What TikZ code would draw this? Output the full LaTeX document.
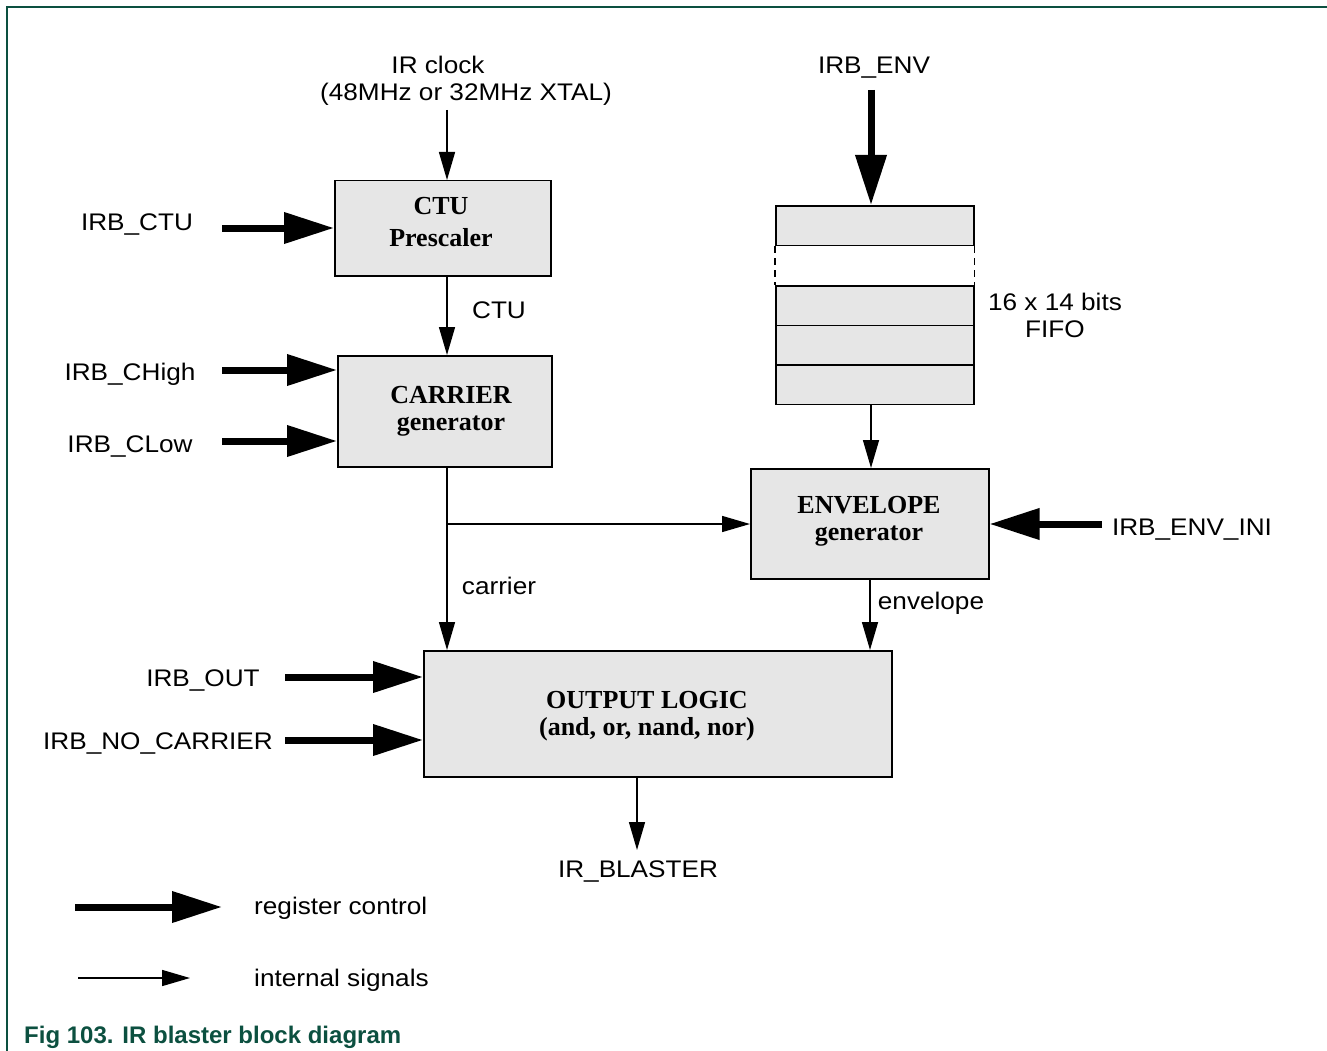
\documentclass[tikz,border=0pt]{standalone}
\usepackage{fontspec}
\setmainfont{Liberation Serif}
\setsansfont{Liberation Sans}
\newfontfamily\lblfont{Liberation Sans}[FakeStretch=1.09]
\usetikzlibrary{arrows.meta}
\definecolor{nxpgreen}{RGB}{12,80,64}
\definecolor{boxgray}{RGB}{230,230,230}
\tikzset{
  blk/.style={draw, line width=1.5pt, fill=boxgray, inner sep=0pt, anchor=north west},
  blktext/.style={inner sep=0pt, align=center, font=\fontsize{26}{27}\selectfont\bfseries},
  fifocell/.style={draw, line width=1.5pt, fill=boxgray, inner sep=0pt, anchor=north west,
    minimum width=198pt, minimum height=39.5pt},
  lbl/.style={inner sep=0pt, font=\lblfont\fontsize{24}{28}\selectfont, text height=17.2pt, text depth=0pt},
  regarrow/.style={line width=7pt, -{Triangle[length=50pt,width=30pt]}},
  sigarrow/.style={line width=1.5pt, -{Triangle[length=28pt,width=16pt]}},
}
\begin{document}
\begin{tikzpicture}[x=1pt,y=-1pt]
\useasboundingbox (0,0) rectangle (1327,1051);
\draw[nxpgreen, line width=1.5pt] (7,1051) -- (7,7) -- (1327,7);

% blocks
\node[blk, minimum width=216pt, minimum height=95pt] (ctu) at (334,180) {};
\node[blk, minimum width=214pt, minimum height=111pt] (car) at (337,355) {};
\node[blk, minimum width=238pt, minimum height=110pt] (env) at (750,468) {};
\node[blk, minimum width=468pt, minimum height=126pt] (out) at (423,650) {};
\node[blktext, font=\fontsize{26}{32}\selectfont\bfseries] (ctut) at (441,222) {CTU\\Prescaler};
\node[blktext] (cart) at (451,411) {CARRIER\\generator};
\node[blktext] (envt) at (869,521) {ENVELOPE\\generator};
\node[blktext] (outt) at (647,716) {OUTPUT LOGIC\\(and, or, nand, nor)};

% FIFO
\node[fifocell] (f1) at (775,205) {};
\node[fifocell] (f2) at (775,285) {};
\node[fifocell] (f3) at (775,324.5) {};
\node[fifocell] (f4) at (775,364) {};
\draw[line width=1.5pt, dash pattern=on 7pt off 5pt] (f1.south west) -- (f2.north west);
\draw[line width=1.5pt, dash pattern=on 7pt off 5pt] (f1.south east) -- (f2.north east);

% labels
\node[lbl] (clk1) at (438,65) {IR clock};
\node[lbl] (clk2) at (466,92) {(48MHz or 32MHz XTAL)};
\node[lbl] (lenv) at (874,65) {IRB\_ENV};
\node[lbl] (lctu) at (137,222) {IRB\_CTU};
\node[lbl] (lctusig) at (499,310) {CTU};
\node[lbl] (lchigh) at (130,372) {IRB\_CHigh};
\node[lbl] (lclow) at (130,444) {IRB\_CLow};
\node[lbl] (lfifo1) at (1055,302) {16 x 14 bits};
\node[lbl] (lfifo2) at (1055,329) {FIFO};
\node[lbl] (lenvini) at (1192,527) {IRB\_ENV\_INI};
\node[lbl] (lcarrier) at (499,586) {carrier};
\node[lbl] (lenvelope) at (931,601) {envelope};
\node[lbl] (lout) at (203,678) {IRB\_OUT};
\node[lbl] (lnoc) at (158,741) {IRB\_NO\_CARRIER};
\node[lbl] (lblaster) at (638,869) {IR\_BLASTER};
\node[lbl, anchor=west] (lreg) at (254,906) {register control};
\node[lbl, anchor=west] (lint) at (254,978) {internal signals};
\node[inner sep=0pt, anchor=west, text=nxpgreen, font=\sffamily\bfseries\fontsize{24}{28}\selectfont,
  text height=17.2pt, text depth=0pt] (cap) at (24,1035) {Fig 103. IR blaster block diagram};

% coordinates
\coordinate (clk) at (447,110);
\coordinate (envin) at (871,90);
\coordinate (ctuin) at (222,228);
\coordinate (chighin) at (222,370);
\coordinate (clowin) at (222,441);
\coordinate (envini) at (1102,524);
\coordinate (outin) at (285,677);
\coordinate (nocin) at (285,740);
\coordinate (br) at (447,524);
\coordinate (envx) at (870,0);
\coordinate (blx) at (637,850);
\coordinate (rg1) at (75,907);
\coordinate (rg2) at (222,907);
\coordinate (sg1) at (78,978);
\coordinate (sg2) at (190,978);

% register control arrows
\draw[regarrow] (ctuin) -- (ctu.west |- ctuin);
\draw[regarrow] (chighin) -- (car.west |- chighin);
\draw[regarrow] (clowin) -- (car.west |- clowin);
\draw[regarrow] (envin) -- (envin |- f1.north);
\draw[regarrow] (envini) -- (env.east |- envini);
\draw[regarrow] (outin) -- (out.west |- outin);
\draw[regarrow] (nocin) -- (out.west |- nocin);
\draw[regarrow] (rg1) -- (rg2);

% internal signals
\draw[sigarrow] (clk) -- (clk |- ctu.north);
\draw[sigarrow] (clk |- ctu.south) -- (clk |- car.north);
\draw[sigarrow] (clk |- car.south) -- (clk |- out.north);
\draw[sigarrow] (br) -- (env.west |- br);
\draw[sigarrow] (envin |- f4.south) -- (envin |- env.north);
\draw[sigarrow] (envx |- env.south) -- (envx |- out.north);
\draw[sigarrow] (blx |- out.south) -- (blx);
\draw[sigarrow] (sg1) -- (sg2);
\end{tikzpicture}
\end{document}
